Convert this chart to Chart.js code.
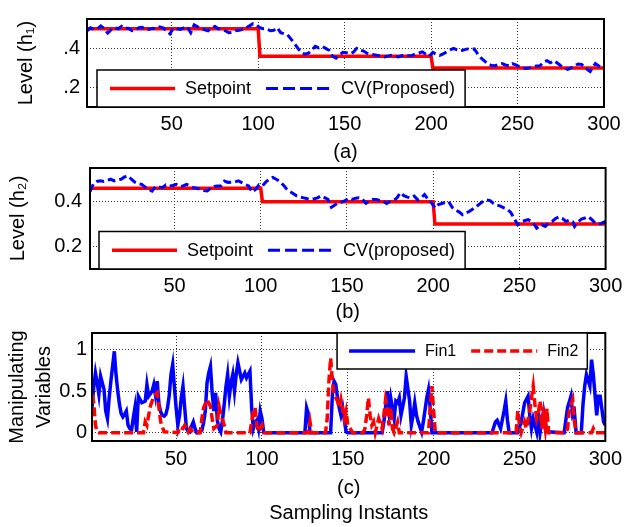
<!DOCTYPE html>
<html><head><meta charset="utf-8">
<script src="https://cdn.jsdelivr.net/npm/chart.js@4.4.1/dist/chart.umd.min.js"></script>
<style>
html,body{margin:0;padding:0;background:#fff;}
#wrap{position:relative;width:628px;height:527px;background:#fff;}
canvas{position:absolute;left:0;top:0;}
</style></head><body>
<div id="wrap">
<canvas id="ca" width="628" height="527" style="width:628px;height:527px"></canvas>
<canvas id="cb" width="628" height="527" style="width:628px;height:527px"></canvas>
<canvas id="cc" width="628" height="527" style="width:628px;height:527px"></canvas>
</div>
<script>
// ---------- tick labels ----------
const xTicks = [50, 100, 150, 200, 250, 300];
const aYTicks = [0.2, 0.4];
const aYLabels = ['.2', '.4'];
const bYTicks = [0.2, 0.4];
const bYLabels = ['0.2', '0.4'];
const cYTicks = [0, 0.5, 1];
const cYLabels = ['0', '0.5', '1'];

// ---------- panel (a) ----------
const aSpX = [1, 100, 101, 200, 201, 300];
const aSpY = [0.50, 0.50, 0.36, 0.36, 0.30, 0.30];
const aCvX = [1,3,5,7,9,11,13,15,17,19,21,23,25,27,29,31,33,35,37,39,41,43,45,47,49,51,53,55,57,59,61,63,65,67,69,71,73,75,77,79,81,83,85,87,89,91,93,95,97,99,101,103,105,107,109,111,113,115,117,119,121,123,125,127,129,131,133,135,137,139,141,143,145,147,149,151,153,155,157,159,161,163,165,167,169,171,173,175,177,179,181,183,185,187,189,191,193,195,197,199,201,203,205,207,209,211,213,215,217,219,221,223,225,227,229,231,233,235,237,239,241,243,245,247,249,251,253,255,257,259,261,263,265,267,269,271,273,275,277,279,281,283,285,287,289,291,292,294,295,297,298,300];
const aCvY = [0.49,0.505,0.497,0.50,0.515,0.50,0.478,0.495,0.505,0.50,0.513,0.502,0.503,0.49,0.492,0.505,0.507,0.495,0.497,0.503,0.50,0.51,0.505,0.49,0.474,0.505,0.50,0.497,0.505,0.51,0.48,0.52,0.51,0.50,0.495,0.49,0.505,0.512,0.50,0.497,0.49,0.48,0.482,0.49,0.492,0.497,0.505,0.515,0.526,0.52,0.505,0.50,0.499,0.49,0.492,0.506,0.48,0.475,0.469,0.447,0.425,0.40,0.378,0.37,0.375,0.39,0.41,0.402,0.41,0.40,0.39,0.36,0.35,0.365,0.38,0.378,0.372,0.38,0.40,0.39,0.386,0.375,0.371,0.367,0.364,0.36,0.356,0.36,0.364,0.36,0.356,0.362,0.367,0.362,0.364,0.371,0.376,0.382,0.37,0.361,0.379,0.37,0.364,0.372,0.382,0.392,0.40,0.392,0.386,0.392,0.397,0.394,0.397,0.371,0.35,0.335,0.319,0.312,0.311,0.318,0.322,0.315,0.311,0.322,0.315,0.307,0.30,0.2965,0.30,0.307,0.31,0.311,0.33,0.337,0.326,0.337,0.325,0.311,0.30,0.292,0.30,0.311,0.32,0.318,0.301,0.288,0.2815,0.31,0.322,0.31,0.304,0.307];

// ---------- panel (b) ----------
const bSpX = [1, 100, 101, 200, 201, 300];
const bSpY = [0.46, 0.46, 0.40, 0.40, 0.30, 0.30];
const bCvX = [1,3,5,7,9,11,13,15,17,19,21,23,25,27,29,31,33,35,37,39,41,43,45,47,49,51,53,55,57,59,61,63,65,67,69,71,73,75,77,79,81,83,85,87,89,91,93,95,97,99,101,103,105,107,109,111,113,115,117,119,121,123,125,127,129,131,133,135,137,139,141,143,145,147,149,151,153,155,157,159,161,163,165,167,169,171,173,175,177,179,181,183,185,187,189,191,193,195,197,199,201,203,205,207,209,211,213,215,217,219,221,223,225,227,229,231,233,235,237,239,241,243,245,247,249,251,253,255,257,259,260,263,265,267,269,271,273,275,277,279,281,282,284,286,288,290,292,294,296,298,300];
const bCvY = [0.445,0.48,0.49,0.493,0.49,0.495,0.50,0.493,0.497,0.50,0.51,0.515,0.50,0.487,0.48,0.477,0.465,0.455,0.447,0.468,0.465,0.462,0.475,0.47,0.472,0.477,0.468,0.47,0.477,0.47,0.462,0.46,0.455,0.45,0.448,0.46,0.468,0.47,0.47,0.492,0.486,0.487,0.488,0.493,0.485,0.477,0.47,0.443,0.455,0.475,0.47,0.488,0.50,0.508,0.50,0.49,0.475,0.457,0.445,0.435,0.425,0.42,0.417,0.413,0.41,0.413,0.417,0.426,0.418,0.41,0.375,0.385,0.396,0.398,0.405,0.415,0.41,0.415,0.417,0.41,0.393,0.402,0.41,0.41,0.405,0.402,0.392,0.40,0.405,0.417,0.44,0.427,0.42,0.417,0.425,0.408,0.417,0.432,0.41,0.395,0.372,0.387,0.392,0.397,0.40,0.375,0.362,0.355,0.342,0.35,0.357,0.367,0.378,0.39,0.402,0.408,0.405,0.392,0.385,0.38,0.372,0.366,0.352,0.325,0.297,0.31,0.315,0.32,0.312,0.295,0.282,0.297,0.29,0.305,0.312,0.325,0.332,0.325,0.312,0.318,0.31,0.29,0.31,0.322,0.327,0.333,0.32,0.304,0.30,0.305,0.312];

// ---------- panel (c) ----------
const fin1X = [1,2,3,4,5,6,7,8,9,10,11,12,13,14,15,16,17,18,19,20,21,22,23,24,25,26,27,28,29,30,31,32,33,34,35,36,37,38,39,40,41,42,43,44,45,46,47,48,49,50,51,52,53,54,55,56,57,58,59,60,61,62,63,64,65,66,67,68,69,70,71,72,73,74,75,76,77,78,79,80,81,82,83,84,85,86,87,88,89,90,91,92,93,94,95,96,97,98,99,100,101,102,125,126,127,128,140,141,142,143,144,145,146,147,148,149,150,170,171,172,173,174,175,177,178,179,180,181,183,184,186,187,188,189,190,191,193,194,196,197,198,199,234,236,237,239,241,242,243,244,249,251,253,255,256,257,258,260,261,262,264,266,276,278,280,281,282,283,286,287,288,289,291,292,293,295,296,297,299,300];
const fin1Y = [0.30,0.55,0.72,0.60,0.46,0.68,0.60,0.52,0.26,0.17,0.42,0.62,0.80,0.98,0.70,0.50,0.34,0.23,0.19,0.22,0.26,0.09,0.05,0.03,0.17,0.30,0.01,0.44,0.40,0.36,0.37,0.38,0.58,0.44,0.47,0.50,0.58,0.45,0.62,0.34,0.25,0.21,0.20,0.22,0.30,0.45,0.70,0.82,0.55,0.30,0.09,0.21,0.42,0.56,0.30,0.05,0.02,0.01,0.08,0.13,0.05,0,0,0.02,0.03,0.12,0.26,0.60,0.72,0.80,0.48,0.26,0.48,0.15,0.05,0.01,0.15,0.34,0.55,0.70,0.44,0.60,0.70,0.50,0.70,0.84,0.74,0.64,0.68,0.72,0.66,0.70,0.74,0.30,0.05,0.12,0.15,0.05,0.26,0.17,0.01,0,0,0.30,0.23,0,0,0.45,0.62,0.58,0.42,0.30,0.21,0.30,0.15,0.01,0,0,0.13,0.30,0.50,0.26,0.42,0.17,0.38,0.36,0.42,0.21,0.42,0.68,0.38,0.09,0.21,0.36,0.21,0.13,0.01,0.13,0.42,0.52,0.30,0,0,0.13,0.15,0.05,0.26,0.38,0.15,0,0,0.13,0.36,0.44,0.21,0.05,0.17,0.01,0.26,0,0.26,0.01,0,0.30,0.44,0.21,0.25,0,0,0.34,0.56,0.70,0.56,0.88,0.70,0.21,0.44,0.44,0.13,0.09];
const fin2X = [1,2,3,4,5,31,32,33,34,35,37,39,40,41,43,51,52,54,55,57,58,60,64,65,66,68,70,71,72,74,75,76,78,79,93,94,95,96,97,98,99,100,101,127,128,129,137,138,139,140,141,142,143,144,145,146,148,149,150,152,153,159,160,161,162,163,164,165,166,168,170,171,172,173,174,175,176,177,179,180,197,198,199,200,201,248,249,250,251,253,254,256,257,258,259,260,261,262,263,264,265,266,267,277,278,279,280,281,282,283,292,293,294,300];
const fin2Y = [0.46,0.36,0.09,0.01,0,0,0.13,0.09,0.21,0.32,0.44,0.48,0.30,0.13,0.01,0,0.07,0.05,0.09,0.01,0.05,0,0,0.17,0.30,0.40,0.32,0.17,0.05,0.09,0.32,0.23,0.09,0,0,0.13,0.26,0.30,0.09,0.01,0.05,0.09,0,0,0.13,0,0,0.17,0.62,0.90,0.62,0.46,0.42,0.38,0.30,0.40,0.17,0.26,0.09,0.03,0,0,0.05,0.21,0.42,0.21,0.09,0.13,0,0.17,0.05,0.21,0.40,0.30,0.09,0.30,0.05,0,0.13,0,0,0.30,0.56,0.26,0,0,0.26,0.09,0,0.13,0.05,0.26,0.42,0.56,0.34,0.17,0.25,0.38,0.05,0.21,0.05,0.29,0,0,0.05,0.26,0.34,0.40,0.13,0,0,0.05,0,0];

const FONT = '"Liberation Sans", Arial, Helvetica, sans-serif';
Chart.defaults.font.family = FONT;
Chart.defaults.font.size = 20;
Chart.defaults.color = '#000';

const pts = (xs, ys) => xs.map((x, i) => ({x: x, y: ys[i]}));

const framePlugin = {
  id: 'frame',
  afterDatasetsDraw(chart) {
    const {ctx, chartArea: a} = chart;
    ctx.save();
    ctx.strokeStyle = '#000';
    ctx.lineWidth = 2;
    ctx.strokeRect(a.left, a.top, a.right - a.left, a.bottom - a.top);
    ctx.restore();
  }
};

const boxLegend = {
  id: 'boxLegend',
  afterDatasetsDraw(chart, args, o) {
    const {ctx, chartArea: a} = chart;
    const ds = chart.data.datasets;
    ctx.save();
    ctx.font = o.fontSize + 'px ' + FONT;
    let w = o.padL;
    const tw = ds.map(d => ctx.measureText(d.label).width);
    ds.forEach((d, i) => { w += o.lineLen + o.gapLT + tw[i] + (i < ds.length - 1 ? o.gapTL : o.padR); });
    const h = o.height;
    const x0 = o.anchor === 'bl' ? a.left + o.offset : a.right - o.offset - w;
    const y0 = o.anchor === 'bl' ? a.bottom - h : a.top;
    ctx.fillStyle = '#fff';
    ctx.fillRect(x0, y0, w, h);
    ctx.strokeStyle = '#000';
    ctx.lineWidth = 1.5;
    ctx.strokeRect(x0, y0, w, h);
    const cy = y0 + h / 2;
    let x = x0 + o.padL;
    ds.forEach((d, i) => {
      ctx.beginPath();
      ctx.strokeStyle = d.borderColor;
      ctx.lineWidth = d.borderWidth;
      ctx.setLineDash(d.legendDash || []);
      ctx.moveTo(x, cy); ctx.lineTo(x + o.lineLen, cy);
      ctx.stroke();
      ctx.setLineDash([]);
      x += o.lineLen + o.gapLT;
      ctx.fillStyle = '#000';
      ctx.textBaseline = 'middle';
      ctx.textAlign = 'left';
      ctx.fillText(d.label, x, cy + 1);
      x += tw[i] + o.gapTL;
    });
    ctx.restore();
  }
};

function xScale(title, titleLH, titlePadB, height, tickPad) {
  return {
    type: 'linear', min: 1, max: 300,
    afterBuildTicks: s => { s.ticks = xTicks.map(v => ({value: v})); },
    afterFit: s => { s.height = height; },
    grid: {color: '#333', lineWidth: 1, drawTicks: false},
    border: {display: false, dash: [1, 2]},
    ticks: {padding: tickPad, maxRotation: 0, autoSkip: false, font: {size: 20}, color: '#000'},
    title: {display: true, text: title, color: '#000', font: {size: 20, lineHeight: titleLH}, padding: {top: 0, bottom: titlePadB}}
  };
}
function yScale(min, max, tks, lbls, width, tickPad, title, titleLH, titlePadT) {
  return {
    type: 'linear', min: min, max: max,
    afterBuildTicks: s => { s.ticks = tks.map(v => ({value: v})); },
    afterFit: s => { s.width = width; },
    grid: {color: '#333', lineWidth: 1, drawTicks: false},
    border: {display: false, dash: [1, 2]},
    ticks: {padding: tickPad, font: {size: 20}, color: '#000', callback: (v, i) => lbls[i]},
    title: {display: true, text: title, color: '#000', font: {size: 20, lineHeight: titleLH}, padding: {top: titlePadT, bottom: 0}}
  };
}
function baseOpts(padding, scales, legendOpts) {
  return {
    responsive: false, animation: false, events: [],
    layout: {padding: padding},
    scales: scales,
    plugins: {legend: {display: false}, tooltip: {enabled: false}, boxLegend: legendOpts}
  };
}
const lineDs = (label, data, color, width, dash, legendDash, order) => ({
  label: label, data: data, borderColor: color, backgroundColor: color, borderWidth: width,
  borderDash: dash, legendDash: legendDash, pointRadius: 0, tension: 0, fill: false, order: order
});

new Chart(document.getElementById('ca'), {
  type: 'line',
  data: {datasets: [
    lineDs('Setpoint', pts(aSpX, aSpY), '#ff0000', 3.5, [], [], 1),
    lineDs('CV(Proposed)', pts(aCvX, aCvY), '#0000ff', 3, [8, 4], [12, 5], 0)
  ]},
  options: baseOpts({left: 0, top: 7, right: 24, bottom: 360}, {
    x: xScale('(a)', 1.2, 3, 60, 5.5),
    y: yScale(0.1, 0.55, aYTicks, aYLabels, 87, 7, 'Level (h\u2081)', 1.2, 14.4)
  }, {anchor: 'bl', offset: 10, height: 37, fontSize: 18, padL: 13, lineLen: 65, gapLT: 10, gapTL: 15, padR: 10}),
  plugins: [framePlugin, boxLegend]
});

new Chart(document.getElementById('cb'), {
  type: 'line',
  data: {datasets: [
    lineDs('Setpoint', pts(bSpX, bSpY), '#ff0000', 3.5, [], [], 1),
    lineDs('CV(proposed)', pts(bCvX, bCvY), '#0000ff', 3, [8, 4], [12, 5], 0)
  ]},
  options: baseOpts({left: 0, top: 168, right: 21, bottom: 200}, {
    x: xScale('(b)', 1.2, 3, 58, 5.7),
    y: yScale(0.1, 0.55, bYTicks, bYLabels, 90, 8, 'Level (h\u2082)', 1.2, 6)
  }, {anchor: 'bl', offset: 9, height: 37.5, fontSize: 18, padL: 13, lineLen: 65, gapLT: 10, gapTL: 15, padR: 10}),
  plugins: [framePlugin, boxLegend]
});

new Chart(document.getElementById('cc'), {
  type: 'line',
  data: {datasets: [
    lineDs('Fin1', pts(fin1X, fin1Y), '#0000ff', 3.5, [], [], 1),
    lineDs('Fin2', pts(fin2X, fin2Y), '#ff0000', 3.5, [9, 4], [9, 4], 0)
  ]},
  options: baseOpts({left: 0, top: 333, right: 16, bottom: 0}, {
    x: xScale(['(c)', 'Sampling Instants'], 1.25, 1.5, 86, 6),
    y: yScale(-0.1, 1.2, cYTicks, cYLabels, 92, 5, ['Manipulating', 'Variables'], 1.35, 3.5)
  }, {anchor: 'tr', offset: 18, height: 36, fontSize: 16, padL: 12, lineLen: 66, gapLT: 10, gapTL: 15, padR: 9}),
  plugins: [framePlugin, boxLegend]
});
</script>
</body></html>
